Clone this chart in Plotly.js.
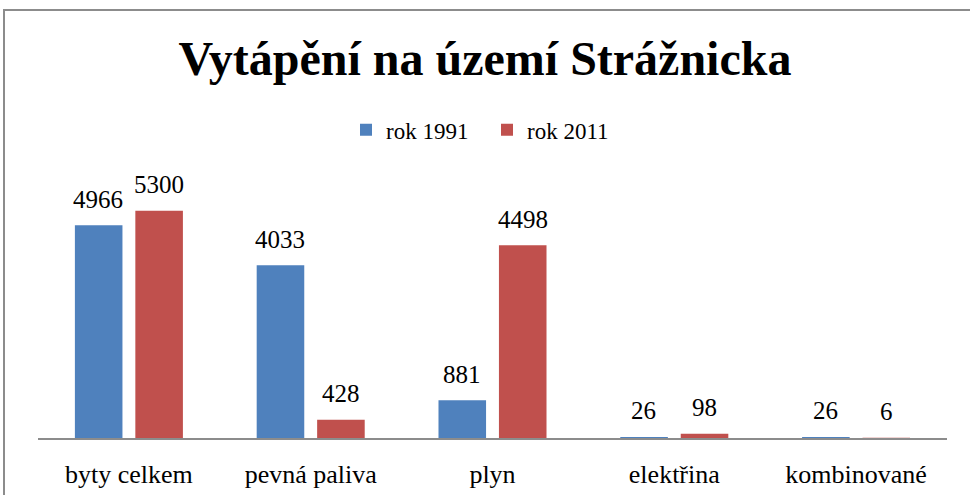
<!DOCTYPE html>
<html>
<head>
<meta charset="utf-8">
<script src="https://cdn.plot.ly/plotly-3.0.1.min.js"></script>
<style>html,body{margin:0;padding:0;background:#fff;}#chart{width:970px;height:495px;}</style>
</head>
<body>
<div id="chart"></div>
<script>
const categories = ["byty celkem", "pevná paliva", "plyn", "elektřina", "kombinované"];
const rok1991 = [4966, 4033, 881, 26, 26];
const rok2011 = [5300, 428, 4498, 98, 6];
const seriesNames = ["rok 1991", "rok 2011"];
const colors = ["#4F81BD", "#C0504D"];

const serif = "Liberation Serif";
const series = [rok1991, rok2011];

const traces = series.map((vals, i) => ({
  type: "bar", name: seriesNames[i], x: categories, y: vals,
  marker: {color: colors[i]}, textposition: "none", hoverinfo: "none"
}));

// data labels placed through the axis scales (x: category, y: value)
const groupOffsetPx = 30.5;
const labelLiftPx = 26;
const annotations = [];
series.forEach((vals, i) => {
  vals.forEach((v, j) => {
    annotations.push({
      xref: "x", yref: "y", x: categories[j], y: v, text: String(v),
      showarrow: false, xanchor: "center", yanchor: "middle",
      xshift: (i === 0 ? -1 : 1) * groupOffsetPx, yshift: labelLiftPx,
      font: {family: serif, size: 25, color: "#000"}
    });
  });
});

const layout = {
  width: 970, height: 495,
  margin: {l: 38, r: 23, t: 138, b: 57},
  paper_bgcolor: "#fff", plot_bgcolor: "#fff",
  barmode: "group", bargap: 0.335, bargroupgap: 0.213,
  title: {text: "<b>Vytápění na území Strážnicka</b>", font: {family: serif, size: 48, color: "#000"},
          x: 0.5, xanchor: "center", y: 1 - 58/495, yref: "container", yanchor: "middle"},
  showlegend: true,
  legend: {orientation: "h", x: (346 - 38) / 909, xanchor: "left", y: 1.027, yanchor: "middle",
           entrywidth: 96, entrywidthmode: "pixels",
           font: {family: serif, size: 23, color: "#000"}, itemwidth: 30, traceorder: "normal"},
  xaxis: {showline: true, linecolor: "#8c8c8c", linewidth: 1.5, ticks: "", showgrid: false, zeroline: false,
          tickfont: {family: serif, size: 26, color: "#000"}, ticklabelstandoff: 12, fixedrange: true},
  yaxis: {range: [0, 7000], visible: false, showgrid: false, zeroline: false, fixedrange: true},
  annotations: annotations,
  shapes: [
    {type: "rect", xref: "paper", yref: "paper",
     x0: (4 - 38) / 909, x1: (975 - 38) / 909,
     y0: (438 - 500) / 300, y1: (438 - 10) / 300,
     line: {color: "#8c8c8c", width: 2}, fillcolor: "rgba(0,0,0,0)", layer: "below"}
  ]
};

Plotly.newPlot("chart", traces, layout, {displayModeBar: false, staticPlot: true});
</script>
</body>
</html>
